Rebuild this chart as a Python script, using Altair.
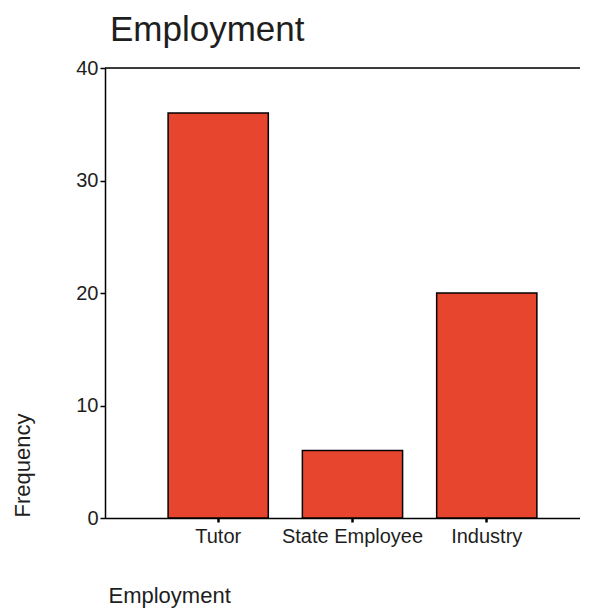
import altair as alt
import pandas as pd

categories = ["Tutor", "State Employee", "Industry"]
frequencies = [36, 6, 20]
y_ticks = [0, 10, 20, 30, 40]
y_max = 40

FONT = "Liberation Sans"
TXT = "#1e1e1e"

df = pd.DataFrame({"Employment": categories, "Frequency": frequencies})

x_enc = alt.X(
    "Employment:N",
    sort=categories,
    scale=alt.Scale(paddingInner=0.2537, paddingOuter=0.3955, align=0.594),
    axis=alt.Axis(
        title="Employment",
        labelAngle=0,
        labelFont=FONT,
        labelFontSize=20,
        labelColor=TXT,
        labelPadding=4,
        domainColor="black",
        domainWidth=1.5,
        tickColor="black",
        tickWidth=2.5,
        tickSize=4,
        titleFont=FONT,
        titleFontSize=22,
        titleFontWeight="normal",
        titleColor=TXT,
        titleX=3,
        titleY=84,
        titleAlign="left",
        titleBaseline="alphabetic",
    ),
)

y_enc = alt.Y(
    "Frequency:Q",
    scale=alt.Scale(domain=[0, y_max], nice=False),
    axis=alt.Axis(
        title="Frequency",
        values=y_ticks,
        grid=False,
        labelFont=FONT,
        labelFontSize=20,
        labelColor=TXT,
        labelPadding=2,
        domainColor="black",
        domainWidth=1.5,
        tickColor="black",
        tickWidth=1.5,
        tickSize=5,
        titleFont=FONT,
        titleFontSize=22,
        titleFontWeight="normal",
        titleColor=TXT,
        titleAngle=270,
        titleX=-83,
        titleY=397,
        titleAlign="center",
        titleBaseline="middle",
    ),
)

bars = alt.Chart(df).mark_bar(color="#E8452F", stroke="black", strokeWidth=1.5).encode(
    x=x_enc, y=y_enc
)

top_line = alt.Chart(pd.DataFrame({"v": [y_max]})).mark_rule(
    color="black", strokeWidth=1.5
).encode(y=alt.Y("v:Q"))

chart = alt.layer(bars, top_line).properties(
    width=475,
    height=450,
    title=alt.TitleParams(
        "Employment",
        anchor="start",
        frame="group",
        font=FONT,
        fontSize=35,
        fontWeight="normal",
        color=TXT,
        dx=5,
        dy=-6,
    ),
    padding={"left": 97, "top": 60, "right": 0, "bottom": 92},
    autosize=alt.AutoSizeParams(type="none"),
).configure_view(stroke=None).configure(background="white")

chart.save("out.html", embed_options={"renderer": "svg", "actions": False})
